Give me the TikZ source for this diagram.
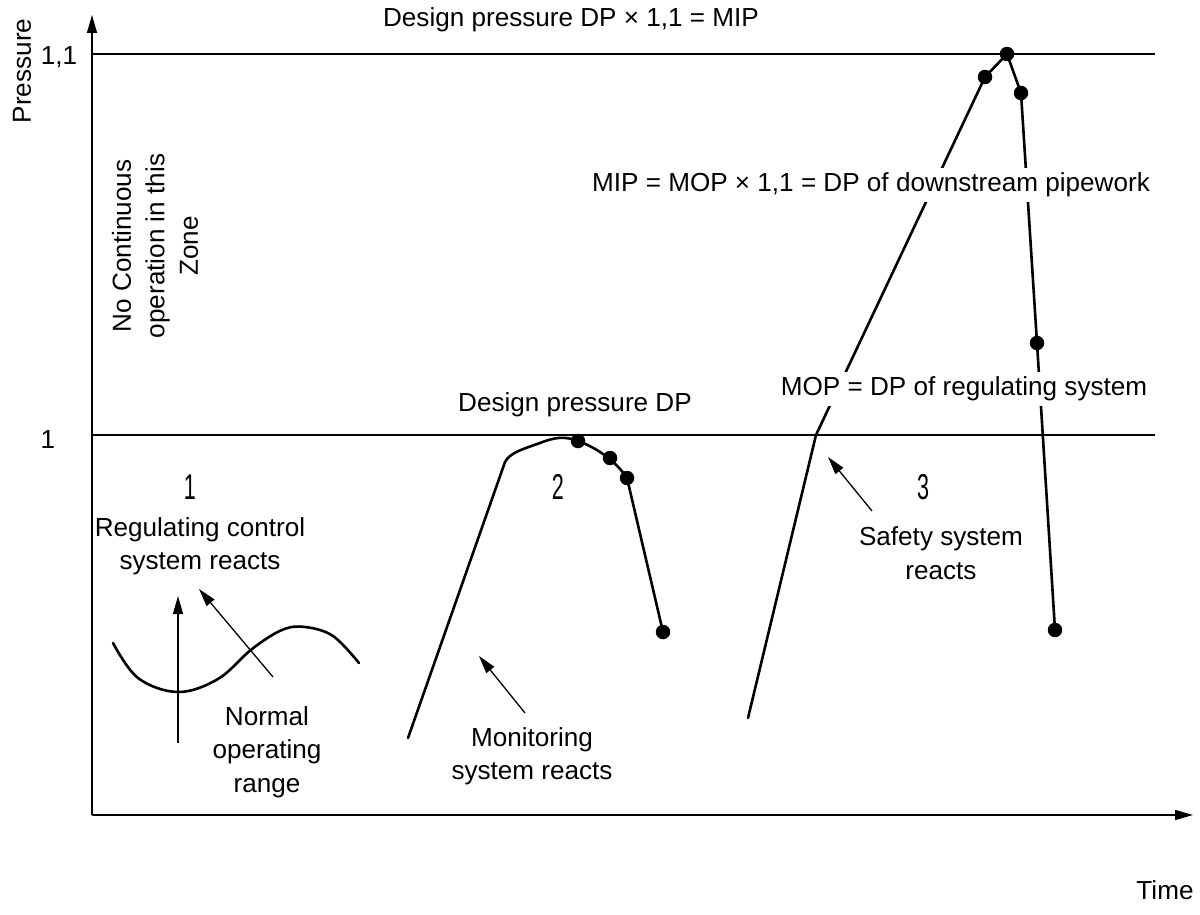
\documentclass[tikz,border=0pt]{standalone}
\usepackage{fontspec}
\setmainfont{Liberation Sans}
\usetikzlibrary{arrows.meta}
\begin{document}
\begin{tikzpicture}[x=1pt,y=-1pt,
  lbl/.style={font=\fontsize{26.1}{33.5}\selectfont, inner sep=0pt, align=center},
  mask/.style={lbl, fill=white, inner xsep=3pt, inner ysep=5pt},
  num/.style={font=\fontsize{36}{36}\selectfont, inner sep=0pt},
  axis/.style={line width=1.4pt, -{Triangle[length=18pt,width=10pt]}},
  guide/.style={line width=1.3pt},
  curve/.style={line width=2.6pt, line join=round, line cap=round},
  pointer/.style={line width=1.3pt, -{Triangle[length=18pt,width=10pt]}},
  dot/.style={circle, fill=black, minimum size=14.5pt, inner sep=0pt}]
\useasboundingbox (0,0) rectangle (1200,915);
% axes
\coordinate (O) at (92,815);
\coordinate (Ytop) at (92,15);
\coordinate (Xend) at (1193,815);
\draw[axis] (O) -- (Ytop);
\draw[axis] (O) -- (Xend);
% reference lines
\coordinate (L11a) at (92,54); \coordinate (L11b) at (1155,54);
\coordinate (L1a) at (92,435); \coordinate (L1b) at (1155,435);
\draw[guide] (L11a) -- (L11b);
\draw[guide] (L1a) -- (L1b);
% axis labels
\node[lbl, rotate=90] (press) at (22,71) {Pressure};
\node[lbl] (time) at (1165,890) {Time};
\node[lbl] (v11) at (59,57) {1,1};
\node[lbl] (v1) at (48,440) {1};
\node[lbl] (mip) at (571,20) {Design pressure DP × 1,1 = MIP};
\node[lbl, rotate=90] (nocont) at (155,246) {No Continuous\\operation in this\\Zone};
% zone 1
\draw[curve] plot[smooth, tension=0.6] coordinates {(113,643) (138,678) (178,692) (218,679) (252,649) (282,630) (305,627) (333,636) (359,663)};
\node[num] (n1) at (190,487) {\scalebox{0.6}[1]{1}};
\node[lbl] (reg) at (200,546) {Regulating control\\system reacts};
\node[lbl] (norm) at (267,752) {Normal\\operating\\range};
\coordinate (a1s) at (178,743); \coordinate (a1e) at (178,596);
\coordinate (a2s) at (273,677); \coordinate (a2e) at (199,589);
\draw[pointer] (a1s) -- (a1e);
\draw[pointer] (a2s) -- (a2e);
% zone 2
\coordinate (c2a) at (408,738);
\coordinate (c2b) at (505,462);
\node[dot] (d21) at (578,441) {};
\node[dot] (d22) at (610,458) {};
\node[dot] (d23) at (627,478) {};
\node[dot] (d24) at (663,632) {};
\draw[curve] (c2a) -- (c2b) .. controls (510,453) and (520,450) .. (540,443) .. controls (555,437) and (565,436) .. (d21.center) .. controls (595,447) and (615,460) .. (d23.center) -- (d24.center);
\node[num] (n2) at (558,487) {\scalebox{0.6}[1]{2}};
\node[lbl] (dp) at (575,405) {Design pressure DP};
\node[lbl] (mon) at (532,756) {Monitoring\\system reacts};
\coordinate (a3s) at (525,713); \coordinate (a3e) at (479,656);
\draw[pointer] (a3s) -- (a3e);
% zone 3
\coordinate (c3a) at (748,718);
\coordinate (c3b) at (816,435);
\node[dot] (d31) at (985,77) {};
\node[dot] (d32) at (1007,54) {};
\node[dot] (d33) at (1021,93) {};
\node[dot] (d34) at (1037,343) {};
\node[dot] (d35) at (1055,630) {};
\draw[curve] (c3a) -- (c3b) -- (d31.center) -- (d32.center) -- (d33.center) -- (d34.center) -- (d35.center);
\node[mask] (mipl) at (871,185) {MIP = MOP × 1,1 = DP of downstream pipework};
\node[mask] (mopl) at (964,389) {MOP = DP of regulating system};
\node[num] (n3) at (923,487) {\scalebox{0.6}[1]{3}};
\node[lbl] (saf) at (941,553) {Safety system\\reacts};
\coordinate (a4s) at (872,511); \coordinate (a4e) at (828,457);
\draw[pointer] (a4s) -- (a4e);
\end{tikzpicture}
\end{document}
